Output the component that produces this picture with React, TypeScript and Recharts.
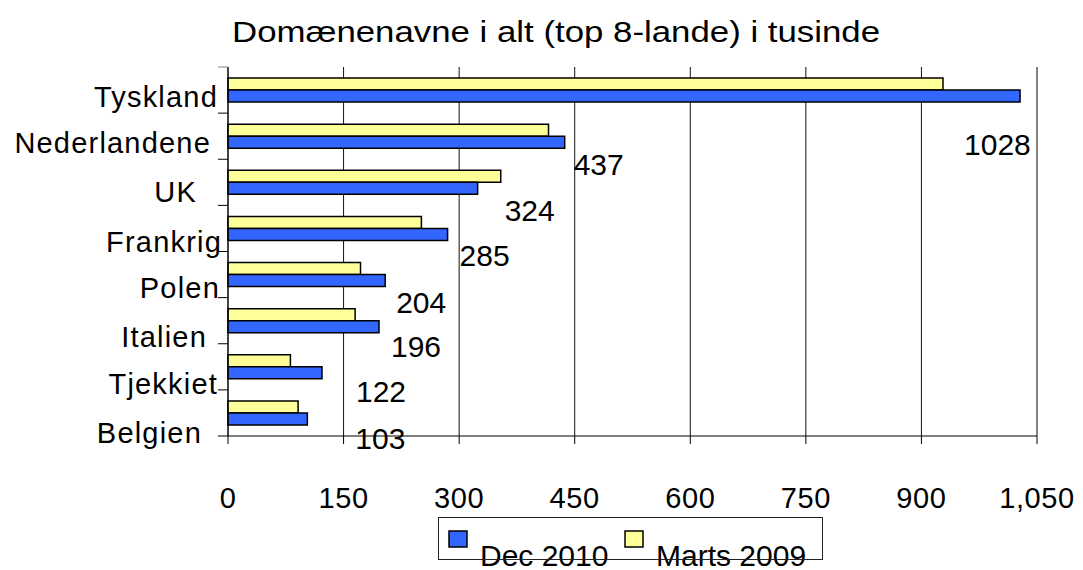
import {
  BarChart,
  Bar,
  XAxis,
  YAxis,
  CartesianGrid,
  ReferenceLine,
  LabelList
} from "recharts";

/* ---------- DATA ---------- */

const categories = [
  "Tyskland",
  "Nederlandene",
  "UK",
  "Frankrig",
  "Polen",
  "Italien",
  "Tjekkiet",
  "Belgien"
];

const dec2010 = [1028, 437, 324, 285, 204, 196, 122, 103];

const marts2009 = [928, 416, 354, 251, 172, 165, 81, 91];

const xTicks = [0, 150, 300, 450, 600, 750, 900, 1050];

const seriesNames = ["Dec 2010", "Marts 2009"];

/* ---------- STYLE ---------- */

const FONT = "'Liberation Sans', Arial, sans-serif";
const BLUE = "#3366ff";
const YELLOW = "#ffff99";

const W = 1083;
const H = 570;
const TOP = 67;
const BOTTOM_AXIS_H = 134;
const BAND = (H - TOP - BOTTOM_AXIS_H) / categories.length;

// label nudges copied from the original (Excel placed them by hand)
const catNudge = [
  [-10, 16.6],
  [-17, 17],
  [-31, 19.4],
  [-6, 23.3],
  [-8, 23.7],
  [-21, 26.6],
  [-10, 27.5],
  [-26, 30.4]
];

const valueNudge = [
  [-56, 58],
  [9, 31.4],
  [27, 32],
  [12, 31],
  [11, 31],
  [12, 29],
  [34, 28.3],
  [48, 28.7]
];

const rows = categories.map((name, i) => ({
  name,
  dec: dec2010[i],
  marts: marts2009[i]
}));

function fmt(v: number) {
  return v.toLocaleString("en-US");
}

/* ---------- TICKS ---------- */

function XTick({ x, y, payload }: any) {
  return (
    <text
      x={x}
      y={y}
      dy={62}
      textAnchor="middle"
      fontFamily={FONT}
      fontSize={29}
      letterSpacing={0.6}
      fill="#000"
    >
      {fmt(payload.value)}
    </text>
  );
}

function YTick({ x, y, payload }: any) {
  const i = categories.indexOf(payload.value);
  const half = BAND / 2;
  return (
    <g>
      {i === 0 && (
        <line x1={x - 10} x2={x} y1={y - half} y2={y - half} stroke="#808080" />
      )}
      <line x1={x - 10} x2={x} y1={y + half} y2={y + half} stroke="#000" />
      <text
        x={x + catNudge[i][0]}
        y={y + catNudge[i][1]}
        textAnchor="end"
        fontFamily={FONT}
        fontSize={29}
        letterSpacing={1.2}
        fill="#000"
      >
        {payload.value}
      </text>
    </g>
  );
}

function ValueLabel({ x, y, width, height, value, index }: any) {
  const n = valueNudge[index];
  return (
    <text
      x={x + width + n[0]}
      y={y + height / 2 + 1 + n[1]}
      fontFamily={FONT}
      fontSize={30}
      fill="#000"
    >
      {value}
    </text>
  );
}

/* ---------- LEGEND ---------- */

function LegendBox() {
  const colors = [BLUE, YELLOW];
  const itemX = [11, 187];
  return (
    <svg
      width={385}
      height={53}
      style={{ position: "absolute", left: 438, top: 517, overflow: "visible" }}
    >
      {seriesNames.map((s, i) => (
        <g key={s}>
          <rect
            x={itemX[i]}
            y={14}
            width={18}
            height={16}
            fill={colors[i]}
            stroke="#000"
            strokeWidth={1.5}
          />
          <text
            x={itemX[i] + 31}
            y={48.5}
            fontFamily={FONT}
            fontSize={30}
            fill="#000"
          >
            {s}
          </text>
        </g>
      ))}
      <rect x={0.5} y={0.5} width={384} height={42} fill="none" stroke="#222" />
    </svg>
  );
}

/* ---------- MAIN ---------- */

export default function App() {
  return (
    <div
      style={{
        position: "absolute",
        left: 0,
        top: 0,
        width: W,
        height: H,
        background: "#fff",
        overflow: "hidden"
      }}
    >
      <svg
        width={W}
        height={60}
        style={{ position: "absolute", left: 0, top: 0 }}
      >
        <text
          x={232}
          y={42}
          fontFamily={FONT}
          fontSize={30}
          textLength={648}
          lengthAdjust="spacingAndGlyphs"
          fill="#000"
        >
          Domænenavne i alt (top 8-lande) i tusinde
        </text>
      </svg>

      <BarChart
        width={W}
        height={H}
        data={rows}
        layout="vertical"
        margin={{ top: TOP, right: 46, bottom: 0, left: 0 }}
        barGap={0}
        barSize={12}
      >
        <CartesianGrid horizontal={false} stroke="#111" />

        <XAxis
          type="number"
          domain={[0, 1050]}
          ticks={xTicks}
          interval={0}
          height={BOTTOM_AXIS_H}
          tick={<XTick />}
          tickSize={8}
          axisLine={{ stroke: "#000" }}
          tickLine={{ stroke: "#000" }}
        />

        <XAxis
          xAxisId="top"
          orientation="top"
          type="number"
          domain={[0, 1050]}
          height={0}
          tick={false}
          tickLine={false}
          axisLine={{ stroke: "#808080" }}
        />

        <YAxis
          type="category"
          dataKey="name"
          width={228}
          interval={0}
          tickSize={0}
          tickMargin={0}
          tickLine={false}
          tick={<YTick />}
          axisLine={{ stroke: "#000" }}
        />

        <ReferenceLine x={1050} stroke="#808080" strokeWidth={1.5} />

        <Bar
          dataKey="marts"
          name="Marts 2009"
          fill={YELLOW}
          stroke="#000"
          strokeWidth={1.5}
          isAnimationActive={false}
        />

        <Bar
          dataKey="dec"
          name="Dec 2010"
          fill={BLUE}
          stroke="#000"
          strokeWidth={1.5}
          isAnimationActive={false}
        >
          <LabelList dataKey="dec" content={<ValueLabel />} />
        </Bar>
      </BarChart>

      <LegendBox />
    </div>
  );
}
